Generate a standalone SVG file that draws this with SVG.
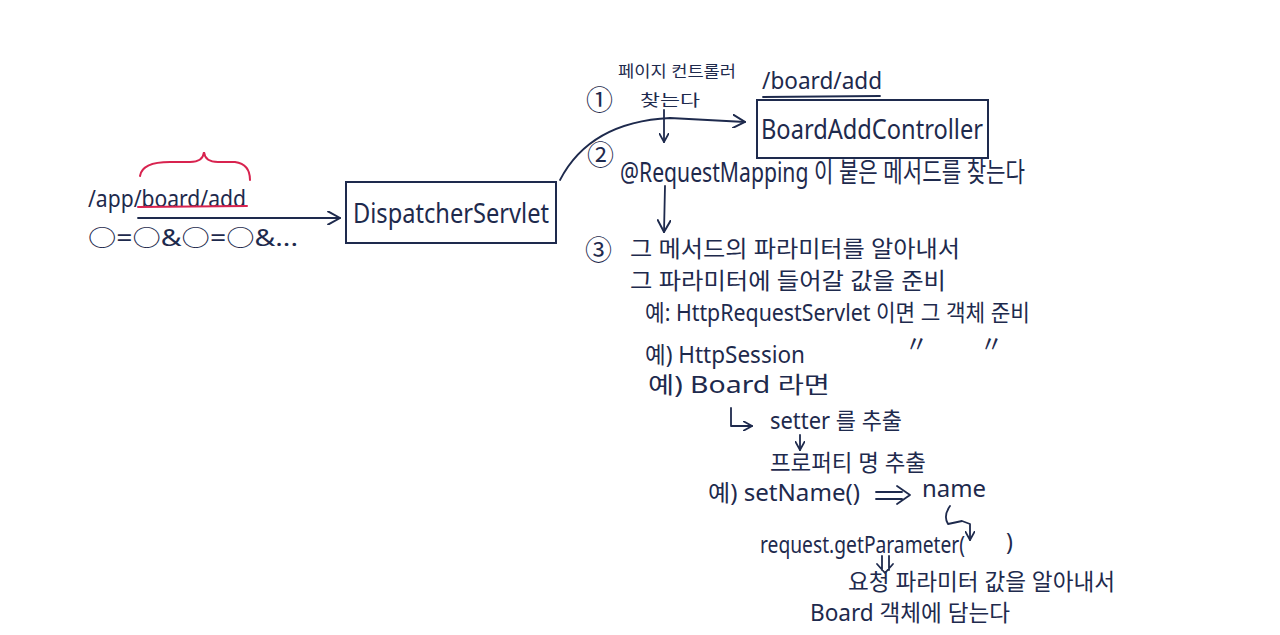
<svg xmlns="http://www.w3.org/2000/svg" width="1280" height="635" viewBox="0 0 1280 635">
<style>
text{font-family:"Noto Sans","Noto Sans CJK KR",sans-serif;fill:#1e2a4d;}
.t{font-size:23px;}
.s{font-size:16px;}
.b{font-size:27px;}
.c{font-size:27px;}
.box{fill:none;stroke:#1e2a4d;stroke-width:2;}
.ln{fill:none;stroke:#1e2a4d;stroke-width:1.8;stroke-linecap:round;stroke-linejoin:round;}
.red{fill:none;stroke:#d8234f;stroke-width:2;stroke-linecap:round;}
</style>
<defs>
<marker id="ah" viewBox="0 0 10 10" refX="9" refY="5" markerWidth="10" markerHeight="10" markerUnits="userSpaceOnUse" orient="auto">
<path d="M0,0 L9,5 L0,10" fill="none" stroke="#1e2a4d" stroke-width="1.8"/>
</marker>
<marker id="ahl" viewBox="0 0 10 10" refX="9" refY="5" markerWidth="14" markerHeight="14" markerUnits="userSpaceOnUse" orient="auto">
<path d="M0,0 L9,5 L0,10" fill="none" stroke="#1e2a4d" stroke-width="1.4"/>
</marker>
</defs>
<rect width="1280" height="635" fill="#ffffff"/>

<g id="request-url">
<text class="t" x="88" y="207" textLength="158" lengthAdjust="spacingAndGlyphs">/app/board/add</text>
<path class="red" d="M140,176 Q142,162 170,162 L190,162 Q203,162 204,152 Q205,162 218,162 L235,162 Q250,164 250,180"/>
<path class="red" d="M138,207 L247,206"/>
<text class="t" x="88" y="246" textLength="210" lengthAdjust="spacingAndGlyphs">○=○&amp;○=○&amp;...</text>
</g>

<g id="dispatcher-servlet">
<rect class="box" x="346" y="182" width="210" height="61"/>
<text class="b" x="451" y="223" text-anchor="middle" textLength="196" lengthAdjust="spacingAndGlyphs">DispatcherServlet</text>
</g>

<g id="board-add-controller">
<text class="t" x="762" y="89" textLength="120" lengthAdjust="spacingAndGlyphs">/board/add</text>
<path class="ln" d="M763,97 L880,96"/>
<rect class="box" x="757" y="100" width="231" height="58"/>
<text class="b" x="872" y="139" text-anchor="middle" textLength="222" lengthAdjust="spacingAndGlyphs">BoardAddController</text>
</g>

<g id="step1">
<text class="s" x="618" y="77" textLength="118" lengthAdjust="spacingAndGlyphs">페이지 컨트롤러</text>
<text class="c" x="586" y="110">①</text>
<text class="s" x="640" y="106" textLength="60" lengthAdjust="spacingAndGlyphs">찾는다</text>
</g>

<g id="step2">
<text class="c" x="587" y="165">②</text>
<text class="b" x="620" y="182" textLength="405" lengthAdjust="spacingAndGlyphs">@RequestMapping 이 붙은 메서드를 찾는다</text>
</g>

<g id="step3">
<text class="c" x="585" y="260">③</text>
<text class="t" x="630" y="257" textLength="330" lengthAdjust="spacingAndGlyphs">그 메서드의 파라미터를 알아내서</text>
<text class="t" x="630" y="289" textLength="316" lengthAdjust="spacingAndGlyphs">그 파라미터에 들어갈 값을 준비</text>
<text class="t" x="645" y="321" textLength="385" lengthAdjust="spacingAndGlyphs">예: HttpRequestServlet 이면 그 객체 준비</text>
<text class="t" x="645" y="363" textLength="160" lengthAdjust="spacingAndGlyphs">예) HttpSession</text>
<text class="t" x="905" y="352">〃</text>
<text class="t" x="980" y="352">〃</text>
<text class="t" x="648" y="393" textLength="182" lengthAdjust="spacingAndGlyphs">예) Board 라면</text>
<text class="t" x="770" y="429" textLength="132" lengthAdjust="spacingAndGlyphs">setter 를 추출</text>
<text class="t" x="770" y="471" textLength="156" lengthAdjust="spacingAndGlyphs">프로퍼티 명 추출</text>
<text class="t" x="708" y="501" textLength="152" lengthAdjust="spacingAndGlyphs">예) setName()</text>
<text class="t" x="922" y="497" textLength="64" lengthAdjust="spacingAndGlyphs">name</text>
<text class="t" x="760" y="553" textLength="205" lengthAdjust="spacingAndGlyphs">request.getParameter(</text>
<text class="t" x="1006" y="550">)</text>
<text class="t" x="848" y="590" textLength="267" lengthAdjust="spacingAndGlyphs">요청 파라미터 값을 알아내서</text>
<text class="t" x="810" y="621" textLength="200" lengthAdjust="spacingAndGlyphs">Board 객체에 담는다</text>
</g>

<g id="connectors">
<path class="ln" d="M138,218 L340,218" marker-end="url(#ahl)"/>
<path class="ln" d="M560,180 Q590,122 670,118 L745,122" marker-end="url(#ahl)"/>
<path class="ln" d="M664,110 L664,142" marker-end="url(#ah)"/>
<path class="ln" d="M665,186 L664,232" marker-end="url(#ahl)"/>
<path class="ln" d="M731,408 L731,426 L752,426" marker-end="url(#ah)"/>
<path class="ln" d="M800,435 L800,450" marker-end="url(#ah)"/>
<path class="ln" d="M876,492 L902,492 M876,499 L902,499 M897,486 L910,495 L897,504"/>
<path class="ln" d="M950,506 Q943,516 948,524 L962,521 L970,524 L970,540" marker-end="url(#ah)"/>
<path class="ln" d="M882,556 L882,570 M889,556 L889,570 M877,564 L885,573 L893,564"/>
</g>
</svg>
